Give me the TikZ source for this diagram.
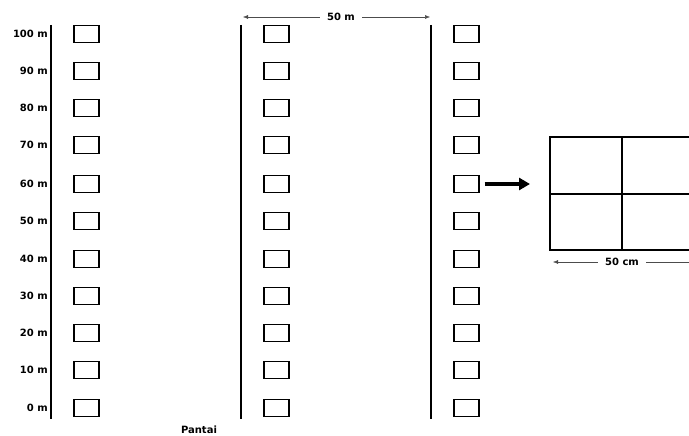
\documentclass[tikz,border=0pt]{standalone}
\usepackage{fontspec}
\setmainfont{DejaVu Sans}
\usetikzlibrary{arrows.meta}

\begin{document}
\begin{tikzpicture}[x=1pt,y=-1pt,
	plot/.style={draw,line width=1.2pt,minimum width=25pt,minimum height=17pt,inner sep=0pt},
	lbl/.style={font=\bfseries\fontsize{10}{12}\selectfont,anchor=east,inner sep=0pt},
	txt/.style={font=\bfseries\fontsize{10}{12}\selectfont,inner sep=1pt},
	dim/.style={-{Latex[length=5pt,width=4pt]},line width=0.5pt,black!70}]
	\useasboundingbox (0,0) rectangle (689,436);
	% transect lines
	\foreach \X/\N in {51/la,241/lb,431/lc}
	{\coordinate (\N1) at (\X,25); \coordinate (\N2) at (\X,419);
	 \draw[line width=1.3pt] (\N1) -- (\N2);}
	% plots every 10 m
	\foreach \Y [count=\Z from 0] in {408,370,333,296,259,221,184,145,108,71,34}
	{\node[lbl] (t\Z) at (48,\Y) {\the\numexpr\Z*10\relax\ m};
	 \node[plot] (a\Z) at (86.5,\Y) {};
	 \node[plot] (b\Z) at (276.5,\Y) {};
	 \node[plot] (c\Z) at (466.5,\Y) {};}
	% distance between transects
	\node[txt] (d1) at (341,17) {50 m};
	\coordinate (d1l) at (243,17);
	\coordinate (d1r) at (430,17);
	\draw[dim] (d1.west) ++(-6,0) -- (d1l);
	\draw[dim] (d1.east) ++(6,0) -- (d1r);
	\node[txt] (pantai) at (199,430) {Pantai};
	% subplot detail
	\coordinate (g1) at (550,137);
	\coordinate (g2) at (694,250);
	\draw[line width=1.2pt] (g1) rectangle (g2);
	\draw[line width=1.2pt] (622,137) -- (622,250);
	\draw[line width=1.2pt] (550,194) -- (694,194);
	\draw[-{Triangle[length=11pt,width=12pt]},line width=3.6pt] (c6.east) ++(5,0) -- (530,184);
	\node[txt] (d2) at (622,262) {50 cm};
	\coordinate (d2l) at (553,262);
	\coordinate (d2r) at (694,262);
	\draw[dim] (d2.west) ++(-6,0) -- (d2l);
	\draw[dim] (d2.east) ++(6,0) -- (d2r);
\end{tikzpicture}
\end{document}
